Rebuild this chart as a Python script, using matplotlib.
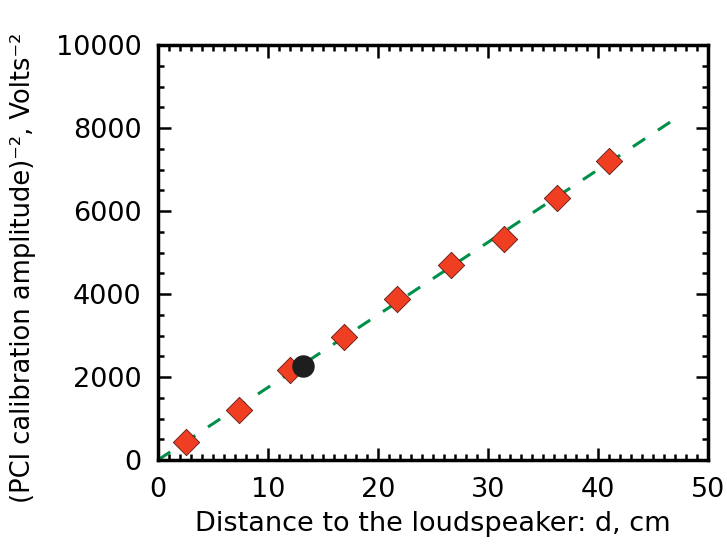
import matplotlib
matplotlib.use("Agg")
import matplotlib.pyplot as plt
import numpy as np
from matplotlib.ticker import MultipleLocator

distance = [2.55, 7.35, 12.0, 16.9, 21.75, 26.6, 31.45, 36.3, 41.0]
inv_amp2 = [430, 1200, 2170, 2960, 3870, 4700, 5330, 6320, 7220]
special_x = [13.2]
special_y = [2260]
fit_x = [0.0, 47.0]
fit_slope = 175.0

plt.rcParams['font.family'] = ['DejaVu Sans']
fig = plt.figure(figsize=(7.27, 5.45), dpi=100)
ax = fig.add_axes([0.2173, 0.156, 0.7567, 0.761])

fx = np.array(fit_x)
ax.plot(fx, fit_slope * fx, linestyle=(0, (4.8, 5.0)), color='#00904a', lw=2.2, zorder=2)
ax.scatter(distance, inv_amp2, marker='D', s=180, color='#ef3e22', edgecolor='#5a1a10',
           linewidth=0.6, zorder=3)
ax.scatter(special_x, special_y, marker='o', s=230, color='#1e1e1e', zorder=4)

ax.set_xlim(0, 50)
ax.set_ylim(0, 10000)
ax.xaxis.set_major_locator(MultipleLocator(10))
ax.xaxis.set_minor_locator(MultipleLocator(1))
ax.yaxis.set_major_locator(MultipleLocator(2000))
ax.yaxis.set_minor_locator(MultipleLocator(500))
ax.tick_params(which='both', direction='in', top=True, right=True, width=1.8, colors='black')
ax.tick_params(which='major', length=9, labelsize=19.5, pad=12)
ax.tick_params(which='minor', length=4.5)
for s in ax.spines.values():
    s.set_linewidth(2.5)

ax.set_xlabel('Distance to the loudspeaker: d, cm', fontsize=19.5, labelpad=6)
ax.set_ylabel('(PCI calibration amplitude)\u207b\u00b2, Volts\u207b\u00b2', fontsize=18.5,
              va='center')
ax.yaxis.set_label_coords(-0.245, 0.464)

fig.savefig('out.png', dpi=100)
